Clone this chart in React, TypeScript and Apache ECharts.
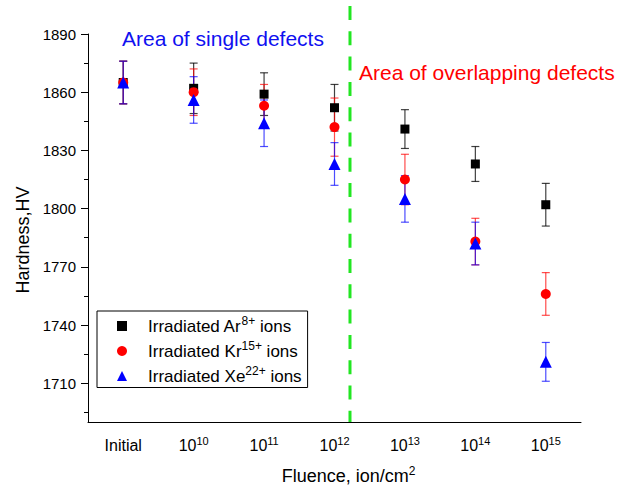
import React, { useEffect, useRef } from 'react';
import * as echarts from 'echarts';

const categories = ['Initial', '10^10', '10^11', '10^12', '10^13', '10^14', '10^15'];
const yTickValues = [1710, 1740, 1770, 1800, 1830, 1860, 1890];
const yMinorTickValues = [1695, 1725, 1755, 1785, 1815, 1845, 1875];
const yMin = 1690;
const yMax = 1890;

const arValues = [1865, 1862, 1859, 1852, 1841, 1823, 1802];
const arErrors = [11, 13, 11, 12, 10, 9, 11];
const krValues = [1865, 1860, 1853, 1842, 1815, 1783, 1756];
const krErrors = [11, 12, 11, 15, 13, 12, 11];
const xeValues = [1865, 1856, 1844, 1823, 1805, 1782, 1721];
const xeErrors = [11, 12, 12, 11, 12, 11, 10];

const seriesNames = ['Irradiated Ar8+ ions', 'Irradiated Kr15+ ions', 'Irradiated Xe22+ ions'];
const legendParts = [
  ['Irradiated Ar', '8+', ' ions'],
  ['Irradiated Kr', '15+', ' ions'],
  ['Irradiated Xe', '22+', ' ions'],
];

const dividerCategory = 3;
const dividerOffset = 0.22;

const FONT = "'Liberation Sans', Arial, Helvetica, sans-serif";

function errorSeries(name: string, values: number[], errors: number[], color: string) {
  return {
    type: 'custom',
    name,
    z: 2,
    silent: true,
    encode: { x: 0, y: [1, 2] },
    data: values.map((v, i) => [i, v - errors[i], v + errors[i]]),
    renderItem: (params: any, api: any) => {
      const x = api.value(0);
      const top = api.coord([x, api.value(2)]);
      const bot = api.coord([x, api.value(1)]);
      const half = 4;
      const style = { stroke: color, lineWidth: 1.2 };
      return {
        type: 'group',
        children: [
          { type: 'line', shape: { x1: top[0], y1: top[1], x2: bot[0], y2: bot[1] }, style },
          { type: 'line', shape: { x1: top[0] - half, y1: top[1], x2: top[0] + half, y2: top[1] }, style },
          { type: 'line', shape: { x1: bot[0] - half, y1: bot[1], x2: bot[0] + half, y2: bot[1] }, style },
        ],
      };
    },
  };
}

function catLabel(v: string) {
  if (v.indexOf('^') >= 0) {
    const [b, e] = v.split('^');
    return `{b|${b}}{s|${e}}`;
  }
  return `{b|${v}}`;
}

export default function App() {
  const ref = useRef<HTMLDivElement>(null);
  useEffect(() => {
    document.body.style.margin = '0';
    const chart = echarts.init(ref.current!, undefined, { renderer: 'svg' });
    const axisLineStyle = { color: '#000', width: 1 };
    const option: any = {
      animation: false,
      backgroundColor: '#fff',
      textStyle: { fontFamily: FONT },
      grid: { left: 88, right: 45, top: 34, bottom: 68 },
      xAxis: [
        {
          type: 'category',
          data: categories,
          position: 'bottom',
          boundaryGap: true,
          axisLine: { lineStyle: axisLineStyle },
          axisTick: { alignWithLabel: true, length: 7, lineStyle: axisLineStyle },
          splitLine: { show: false },
          axisLabel: {
            interval: 0,
            margin: 13,
            formatter: catLabel,
            rich: {
              b: { fontSize: 16, lineHeight: 20, color: '#000', fontFamily: FONT },
              s: { fontSize: 11, lineHeight: 8, color: '#000', verticalAlign: 'top', fontFamily: FONT },
            },
          },
          name: '{a|Fluence, ion/cm}{s|2}',
          nameLocation: 'middle',
          nameGap: 43,
          nameTextStyle: {
            padding: [0, 0, 0, 28],
            rich: {
              a: { fontSize: 18, lineHeight: 22, color: '#000', fontFamily: FONT },
              s: { fontSize: 12, lineHeight: 12, color: '#000', verticalAlign: 'top', fontFamily: FONT },
            },
          },
        },
        {
          type: 'category',
          data: categories,
          position: 'bottom',
          boundaryGap: true,
          axisLine: { show: false },
          axisTick: { alignWithLabel: false, interval: 0, length: 4, lineStyle: axisLineStyle },
          axisLabel: { show: false },
          splitLine: { show: false },
        },
      ],
      yAxis: [
        {
          type: 'value',
          min: yMin,
          max: yMax,
          axisLine: { show: true, lineStyle: axisLineStyle },
          axisTick: { show: true, length: 7, customValues: yTickValues, lineStyle: axisLineStyle },
          axisLabel: {
            customValues: yTickValues,
            formatter: (v: number) => String(v),
            fontSize: 15,
            color: '#000',
            margin: 12,
            fontFamily: FONT,
          },
          splitLine: { show: false },
          name: 'Hardness,HV',
          nameLocation: 'middle',
          nameRotate: 90,
          nameGap: 48,
          nameTextStyle: { fontSize: 18, color: '#000', padding: [0, 24, 0, 0], fontFamily: FONT },
        },
        {
          type: 'value',
          min: yMin,
          max: yMax,
          position: 'left',
          axisLine: { show: false },
          axisTick: { show: true, length: 4, customValues: yMinorTickValues, lineStyle: axisLineStyle },
          axisLabel: { show: false },
          splitLine: { show: false },
        },
      ],
      legend: {
        data: seriesNames,
        orient: 'vertical',
        left: 97,
        top: 311,
        padding: [4, 6, 3, 20],
        itemGap: 5.5,
        itemWidth: 10,
        itemHeight: 10,
        borderColor: '#000',
        borderWidth: 1,
        borderRadius: 0,
        formatter: (name: string) => {
          const i = seriesNames.indexOf(name);
          const p = legendParts[i];
          return `{f|${p[0]}}{s|${p[1]}}{t|${p[2]}}`;
        },
        textStyle: {
          rich: {
            f: { fontSize: 17, lineHeight: 22, color: '#000', fontFamily: FONT, padding: [0, 0, 0, 16] },
            t: { fontSize: 17, lineHeight: 22, color: '#000', fontFamily: FONT },
            s: { fontSize: 12, lineHeight: 10, color: '#000', verticalAlign: 'top', fontFamily: FONT },
          },
        },
      },
      graphic: [
        {
          type: 'text',
          x: 122,
          y: 38,
          style: { text: 'Area of single defects', fill: '#1010f0', fontSize: 21, fontFamily: FONT, verticalAlign: 'middle' },
        },
        {
          type: 'text',
          x: 359,
          y: 72,
          style: { text: 'Area of overlapping defects', fill: '#ff0000', fontSize: 21, fontFamily: FONT, verticalAlign: 'middle' },
        },
      ],
      series: [
        {
          type: 'custom',
          name: 'divider',
          z: 1,
          silent: true,
          data: [[dividerCategory, yMin]],
          encode: { x: 0, y: 1 },
          renderItem: (params: any, api: any) => {
            const i = api.value(0);
            const p0 = api.coord([i, api.value(1)]);
            const p1 = api.coord([i + 1, api.value(1)]);
            const x = p0[0] + dividerOffset * (p1[0] - p0[0]);
            return {
              type: 'line',
              shape: { x1: x, y1: params.coordSys.y - 28, x2: x, y2: p0[1] },
              style: { stroke: '#22e622', lineWidth: 3, lineDash: [14, 11.3] },
            };
          },
        },
        errorSeries('Ar error', arValues, arErrors, 'rgba(0,0,0,0.75)'),
        errorSeries('Kr error', krValues, krErrors, 'rgba(255,0,0,0.7)'),
        errorSeries('Xe error', xeValues, xeErrors, 'rgba(0,0,255,0.7)'),
        {
          type: 'scatter',
          name: seriesNames[0],
          z: 3,
          symbol: 'rect',
          symbolSize: 9,
          itemStyle: { color: '#000', opacity: 1 },
          data: arValues,
        },
        {
          type: 'scatter',
          name: seriesNames[1],
          z: 4,
          symbol: 'circle',
          symbolSize: 10,
          itemStyle: { color: '#ff0000', opacity: 1 },
          data: krValues,
        },
        {
          type: 'scatter',
          name: seriesNames[2],
          z: 5,
          symbol: 'triangle',
          symbolSize: 12,
          itemStyle: { color: '#0000ff', opacity: 1 },
          data: xeValues,
        },
      ],
    };
    chart.setOption(option);
    return () => chart.dispose();
  }, []);
  return <div ref={ref} style={{ width: 626, height: 490 }} />;
}
